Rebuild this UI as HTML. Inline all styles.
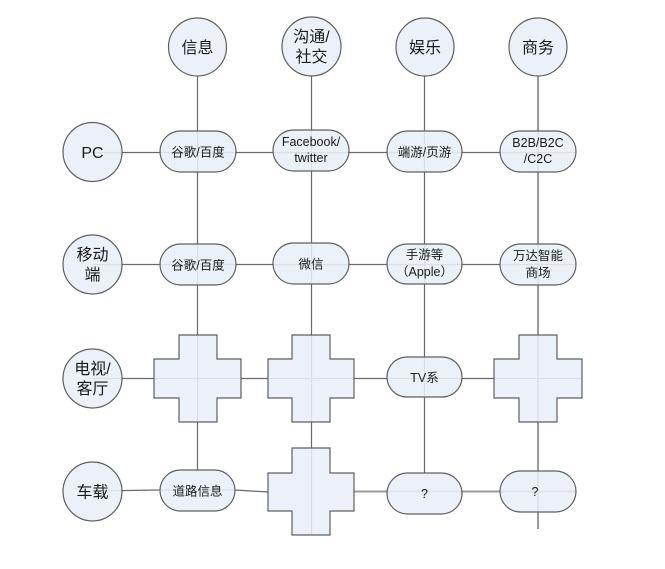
<!DOCTYPE html>
<html><head><meta charset="utf-8"><style>
html,body{margin:0;padding:0;background:#fff;}
svg{display:block;}
text{font-family:"Liberation Sans","Noto Sans CJK SC",sans-serif;fill:#1a1a1a;text-anchor:middle;}
.c{font-size:16px;}
.p{font-size:12.5px;}
.s{fill:#e8eef8;fill-opacity:0.88;stroke:#5f5f5f;stroke-width:1.2;}
.l{stroke:#6a6a6a;stroke-width:1.2;fill:none;}
.g{stroke:#9a9a9a;stroke-width:2;fill:none;}
</style></head><body>
<svg width="665" height="569" viewBox="0 0 665 569" xmlns="http://www.w3.org/2000/svg">
<!-- connectors -->
<line class="l" x1="197.5" y1="76" x2="197.5" y2="471"/>
<line class="l" x1="311.5" y1="76" x2="311.5" y2="535"/>
<line class="l" x1="424.5" y1="76" x2="424.5" y2="473"/>
<line class="g" x1="538" y1="76" x2="538" y2="529"/>
<line class="l" x1="92" y1="152.5" x2="576" y2="152.5"/>
<line class="l" x1="92" y1="264.5" x2="576" y2="264.5"/>
<line class="l" x1="92" y1="378.5" x2="582" y2="378.5"/>
<polyline class="l" points="92,491 160,490 235,490 268,492"/>
<line class="g" x1="354" y1="491.5" x2="576" y2="491.5"/>

<!-- top circles -->
<circle class="s" cx="197.5" cy="47" r="29"/>
<text class="c" x="197.5" y="53">信息</text>
<circle class="s" cx="311.5" cy="46.5" r="29.5"/>
<text class="c" x="311.5" y="42">沟通/</text>
<text class="c" x="311.5" y="62">社交</text>
<circle class="s" cx="425" cy="47" r="29"/>
<text class="c" x="425" y="53">娱乐</text>
<circle class="s" cx="538" cy="47" r="29"/>
<text class="c" x="538" y="53">商务</text>

<!-- left circles -->
<circle class="s" cx="92.5" cy="152" r="29.5"/>
<text class="c" x="92.5" y="158">PC</text>
<circle class="s" cx="92.5" cy="264.5" r="29.5"/>
<text class="c" x="92.5" y="260">移动</text>
<text class="c" x="92.5" y="280">端</text>
<circle class="s" cx="92.5" cy="378.5" r="29.5"/>
<text class="c" x="92.5" y="374">电视/</text>
<text class="c" x="92.5" y="394">客厅</text>
<circle class="s" cx="92.5" cy="491.5" r="29.5"/>
<text class="c" x="92.5" y="497.5">车载</text>

<!-- row 1 pills -->
<rect class="s" x="160" y="131" width="76" height="41" rx="20.5"/>
<text class="p" x="198" y="156.5">谷歌/百度</text>
<rect class="s" x="273" y="130" width="76" height="41" rx="20.5"/>
<text class="p" x="311" y="146">Facebook/</text>
<text class="p" x="311" y="162">twitter</text>
<rect class="s" x="387" y="131" width="75" height="41" rx="20.5"/>
<text class="p" x="424.5" y="156.5">端游/页游</text>
<rect class="s" x="500" y="131" width="76" height="41" rx="20.5"/>
<text class="p" x="538" y="147">B2B/B2C</text>
<text class="p" x="538" y="163">/C2C</text>

<!-- row 2 pills -->
<rect class="s" x="160" y="244" width="76" height="41" rx="20.5"/>
<text class="p" x="198" y="269.5">谷歌/百度</text>
<rect class="s" x="273" y="243" width="76" height="41" rx="20.5"/>
<text class="p" x="311" y="268.5">微信</text>
<rect class="s" x="387" y="244" width="75" height="40" rx="20"/>
<text class="p" x="424.5" y="259">手游等</text>
<text class="p" x="424.5" y="276">（Apple）</text>
<rect class="s" x="500" y="244" width="76" height="41" rx="20.5"/>
<text class="p" x="538" y="260">万达智能</text>
<text class="p" x="538" y="277">商场</text>

<!-- row 3 -->
<path class="s" d="M179,335 H217 V359 H241 V398 H217 V422 H179 V398 H154 V359 H179 Z"/>
<path class="s" d="M292,335 H330 V359 H354 V398 H330 V422 H292 V398 H268 V359 H292 Z"/>
<rect class="s" x="387" y="357" width="75" height="40" rx="20"/>
<text class="p" x="424.5" y="382">TV系</text>
<path class="s" d="M519,335 H557 V359 H582 V398 H557 V422 H519 V398 H494 V359 H519 Z"/>

<!-- row 4 -->
<rect class="s" x="160" y="470" width="75" height="41" rx="20.5"/>
<text class="p" x="197.5" y="495.5">道路信息</text>
<path class="s" d="M292,448 H330 V473 H354 V511 H330 V535 H292 V511 H268 V473 H292 Z"/>
<rect class="s" x="387" y="473" width="75" height="41" rx="20.5"/>
<text class="p" x="424.5" y="498">?</text>
<rect class="s" x="500" y="471" width="76" height="41" rx="20.5"/>
<text class="p" x="535" y="496">?</text>
</svg>
</body></html>
